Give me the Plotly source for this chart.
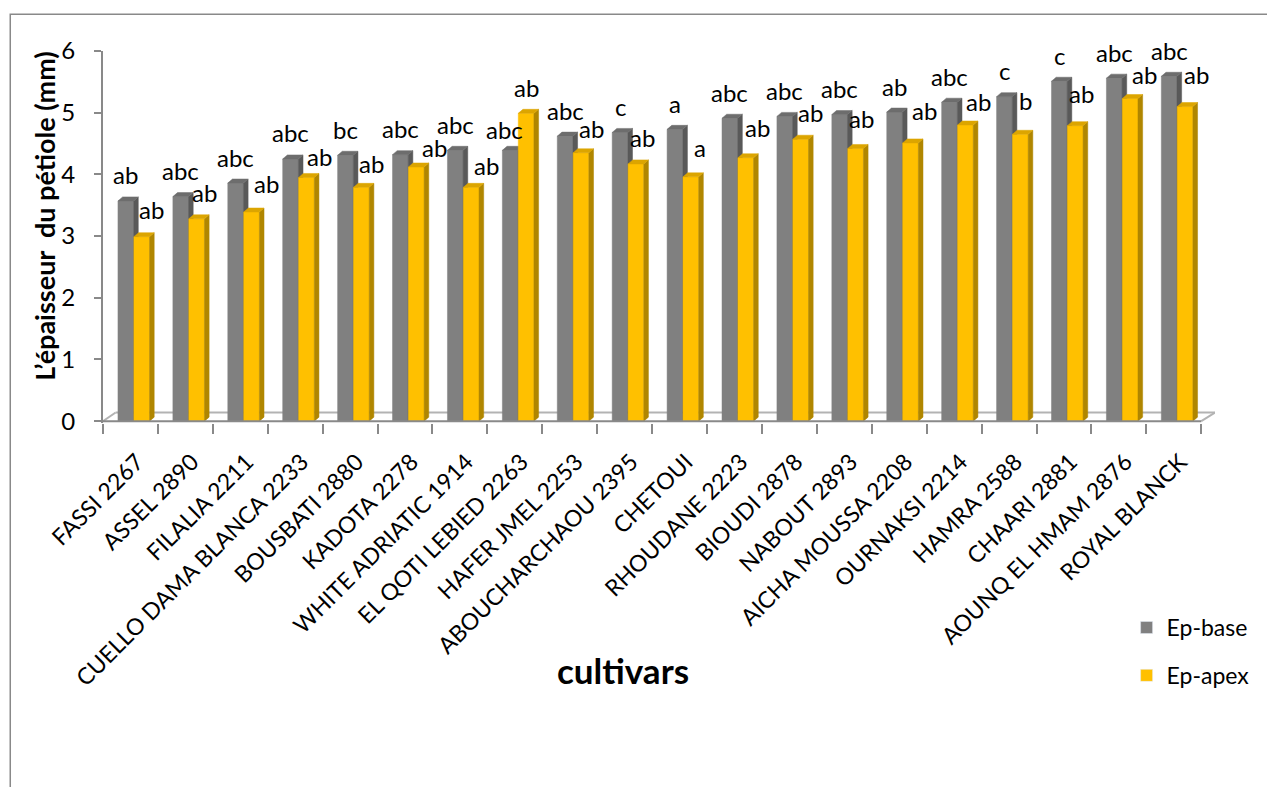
import plotly.graph_objects as go

# Petiole thickness (mm) per cultivar, measured at the base and at the apex
cultivars = [
    "FASSI 2267", "ASSEL 2890", "FILALIA 2211", "CUELLO DAMA BLANCA 2233",
    "BOUSBATI 2880", "KADOTA 2278", "WHITE ADRIATIC 1914", "EL QOTI LEBIED 2263",
    "HAFER JMEL 2253", "ABOUCHARCHAOU 2395", "CHETOUI", "RHOUDANE 2223",
    "BIOUDI 2878", "NABOUT 2893", "AICHA MOUSSA 2208", "OURNAKSI 2214",
    "HAMRA 2588", "CHAARI 2881", "AOUNQ EL HMAM 2876", "ROYAL BLANCK",
]
ep_base = [3.57, 3.64, 3.86, 4.25, 4.31, 4.32, 4.39, 4.39, 4.62, 4.68,
           4.73, 4.91, 4.94, 4.97, 5.01, 5.17, 5.26, 5.51, 5.56, 5.59]
ep_apex = [2.99, 3.28, 3.39, 3.95, 3.79, 4.12, 3.79, 4.99, 4.35, 4.17,
           3.96, 4.27, 4.57, 4.42, 4.51, 4.80, 4.65, 4.79, 5.23, 5.10]
groups_base = ["ab", "abc", "abc", "abc", "bc", "abc", "abc", "abc", "abc", "c",
               "a", "abc", "abc", "abc", "ab", "abc", "c", "c", "abc", "abc"]
groups_apex = ["ab", "ab", "ab", "ab", "ab", "ab", "ab", "ab", "ab", "ab",
               "a", "ab", "ab", "ab", "ab", "ab", "b", "ab", "ab", "ab"]
y_ticks = [0, 1, 2, 3, 4, 5, 6]

FONT = "Lato"
GRID = "#898989"

# pseudo-3D column geometry (data units)
W = 0.285          # column front width
DX = 0.085         # depth offset along x
DY = 0.065         # depth offset along y
OFF_BASE = -0.085  # column centre offset within each category
OFF_APEX = 0.205


def column_faces(values, offset):
    fx, fy, sx, sy, tx, ty = [], [], [], [], [], []
    for i, v in enumerate(values):
        x0 = i + offset - W / 2
        x1 = x0 + W
        fx += [x0, x1, x1, x0, x0, None]
        fy += [0, 0, v, v, 0, None]
        sx += [x1, x1 + DX, x1 + DX, x1, x1, None]
        sy += [0, DY, v + DY, v, 0, None]
        tx += [x0, x1, x1 + DX, x0 + DX, x0, None]
        ty += [v, v, v + DY, v + DY, v, None]
    return (fx, fy), (sx, sy), (tx, ty)


def poly(xy, color):
    return go.Scatter(x=xy[0], y=xy[1], fill="toself", fillcolor=color,
                      mode="lines", line=dict(color=color, width=0.5),
                      hoverinfo="skip", showlegend=False)


fig = go.Figure()

series = [
    (ep_base, OFF_BASE, "#808080", "#595959", "#6d6d6d"),
    (ep_apex, OFF_APEX, "#FFC000", "#B08600", "#DCA500"),
]
for values, off, c_front, c_side, c_top in series:
    front, side, top = column_faces(values, off)
    fig.add_trace(poly(front, c_front))
    fig.add_trace(poly(side, c_side))
    fig.add_trace(poly(top, c_top))

# legend entries
fig.add_trace(go.Bar(x=[None], y=[None], name="Ep-base", marker_color="#808080",
                     legendgroup="b"))
fig.add_trace(go.Bar(x=[None], y=[None], name="Ep-apex", marker_color="#FFC000",
                     legendgroup="a"))
# carrier for the category boundary tick marks
fig.add_trace(go.Scatter(x=[None], y=[None], xaxis="x2", showlegend=False,
                         hoverinfo="skip"))

# significance letters above each column (pixel nudges keep them clear of
# neighbouring columns)
annotations = []
LBL = dict(family=FONT, size=24, color="black")
nudge_base = {7: (-6, 21)}
for i, (v, g) in enumerate(zip(ep_base, groups_base)):
    dx, dy = nudge_base.get(i, (0, 26))
    annotations.append(dict(x=i + OFF_BASE, y=v, text=g, showarrow=False,
                            xshift=dx, yshift=dy, yanchor="middle", font=LBL))
nudge_apex = [(10, 27), (8, 26), (15, 29), (13, 21), (10, 24), (18, 19),
              (15, 22), (0, 26), (10, 24), (7, 26), (9, 29), (12, 30),
              (10, 27), (6, 30), (14, 32), (13, 24), (5, 34), (6, 32),
              (14, 24), (11, 32)]
for i, (v, g) in enumerate(zip(ep_apex, groups_apex)):
    dx, dy = nudge_apex[i]
    annotations.append(dict(x=i + OFF_APEX, y=v, text=g, showarrow=False,
                            xshift=dx, yshift=dy, yanchor="middle", font=LBL))

# axis titles
annotations.append(dict(xref="paper", yref="paper", x=-0.0529, y=0.555,
                        text="L’épaisseur  du pétiole (mm)", textangle=-90,
                        showarrow=False, xanchor="center", yanchor="middle",
                        font=dict(family=FONT, size=27, color="black", weight="bold")))
annotations.append(dict(xref="paper", yref="paper", x=0.468, y=-0.664,
                        text="cultivars", showarrow=False,
                        xanchor="center", yanchor="middle",
                        font=dict(family=FONT, size=35, color="black", weight="bold")))

n = len(cultivars)
# floor of the 3D plot area
floor_dx, floor_dy = 0.23, 0.14
shapes = [
    dict(type="line", x0=-0.5 + floor_dx, x1=n - 0.5 + floor_dx + 0.02,
         y0=floor_dy, y1=floor_dy, line=dict(color="#b3b3b3", width=2), layer="below"),
    dict(type="line", x0=-0.5, x1=-0.5 + floor_dx, y0=0, y1=floor_dy,
         line=dict(color="#b3b3b3", width=2), layer="below"),
    dict(type="line", x0=n - 0.5, x1=n - 0.5 + floor_dx + 0.02, y0=0, y1=floor_dy,
         line=dict(color="#b3b3b3", width=2), layer="below"),
    dict(type="line", x0=-0.5, x1=n - 0.5, y0=0, y1=0,
         line=dict(color=GRID, width=2), layer="above"),
    # chart area border
    dict(type="rect", xref="paper", yref="paper", x0=-0.0834, x1=1.2,
         y0=-1.2, y1=1.0985, line=dict(color=GRID, width=1.5), layer="below"),
]

fig.update_layout(
    width=1267, height=787,
    margin=dict(l=103, r=29, t=51, b=364),
    paper_bgcolor="white", plot_bgcolor="white",
    showlegend=True,
    legend=dict(x=0.9205, y=-0.492, xanchor="left", yanchor="top",
                font=dict(family=FONT, size=23, color="black"),
                tracegroupgap=15, bgcolor="rgba(0,0,0,0)", itemwidth=30),
    xaxis=dict(range=[-0.5, n - 0.5 + 0.25], tickmode="array",
               tickvals=[k + 0.12 for k in range(n)], ticktext=cultivars,
               tickangle=-45, ticks="", showgrid=False, zeroline=False,
               showline=False, ticklabelstandoff=20,
               tickfont=dict(family=FONT, size=23, color="black")),
    xaxis2=dict(range=[-0.5, n - 0.5 + 0.25], overlaying="x", anchor="y",
                side="bottom", tickmode="array",
                tickvals=[k - 0.5 for k in range(n + 1)], ticks="outside",
                ticklen=10, tickwidth=2, tickcolor=GRID, showticklabels=False,
                showgrid=False, zeroline=False, showline=False),
    yaxis=dict(range=[-0.03, 6], tickmode="array", tickvals=y_ticks,
               ticks="outside", ticklen=7, tickwidth=2, tickcolor=GRID,
               showline=True, linecolor=GRID, linewidth=2, showgrid=False,
               zeroline=False, ticklabelstandoff=14,
               tickfont=dict(family=FONT, size=24, color="black")),
    annotations=annotations,
    shapes=shapes,
)

fig.write_html("out.html")
